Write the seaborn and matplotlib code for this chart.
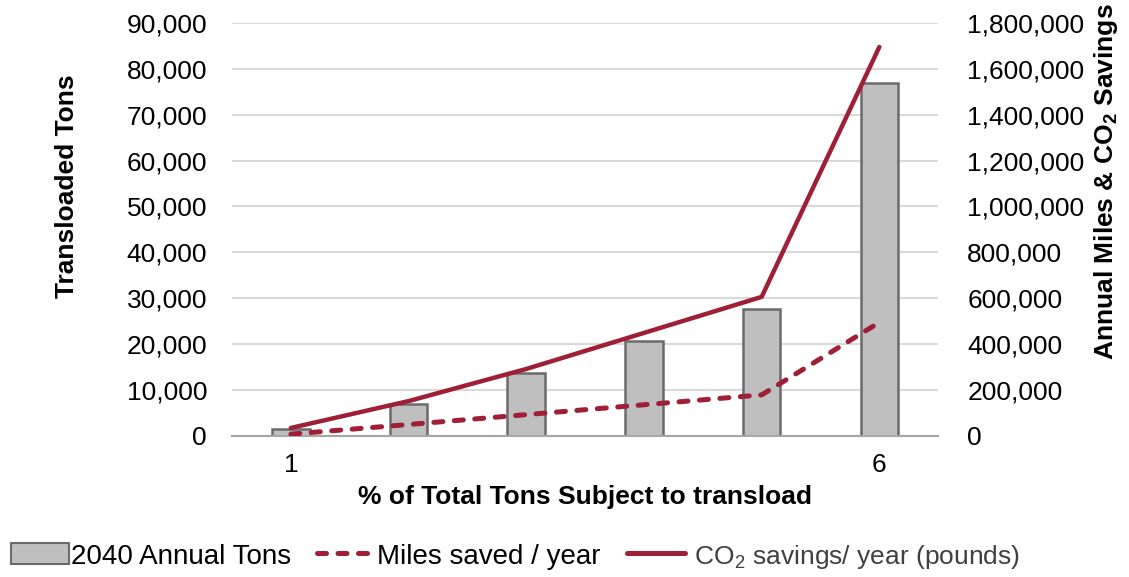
import matplotlib
matplotlib.use("Agg")
import matplotlib.pyplot as plt
import seaborn as sns
import pandas as pd
from matplotlib.patches import Patch
from matplotlib.lines import Line2D
from matplotlib.ticker import FuncFormatter

# Data
share_pct = [1, 2, 3, 4, 5, 6]
annual_tons_2040 = [1500, 7000, 13700, 20700, 27700, 76900]
miles_saved = [8000, 50000, 93000, 136000, 179000, 495000]
co2_savings = [35000, 152000, 292000, 449000, 606000, 1695000]
tick_labels = ["1", "6"]

df = pd.DataFrame({
    "share": share_pct,
    "tons": annual_tons_2040,
    "miles": miles_saved,
    "co2": co2_savings,
})

sns.set_theme(style="white")
plt.rcParams["font.family"] = ["Liberation Sans", "DejaVu Sans"]
plt.rcParams["text.color"] = "black"
plt.rcParams["axes.labelcolor"] = "black"

RED = "#9E1F36"
BAR = "#BFBFBF"
EDGE = "#6B6B6B"
GRID = "#D9D9D9"
FS = 19
DASH = (0, (1.8, 2.3))

fig = plt.figure(figsize=(11.29, 5.77), dpi=100)
ax = fig.add_axes([0.2055, 0.2444, 0.6255, 0.716])

sns.barplot(data=df, x="share", y="tons", native_scale=True, width=0.32,
            color=BAR, edgecolor=EDGE, linewidth=1.8, saturation=1, ax=ax, zorder=2)

ax.set_xlim(0.5, 6.5)
ax.set_ylim(0, 90000)
ax.set_yticks(range(0, 90001, 10000))
ax.yaxis.set_major_formatter(FuncFormatter(lambda v, p: f"{int(v):,}"))
ax.set_xticks([1, 6])
ax.set_xticklabels(tick_labels)
ax.grid(axis="y", color=GRID, linewidth=1.5, zorder=0)
ax.set_axisbelow(True)
for s in ["left", "right", "top"]:
    ax.spines[s].set_visible(False)
ax.spines["bottom"].set_color("#A6A6A6")
ax.spines["bottom"].set_linewidth(1.5)
ax.tick_params(axis="y", labelsize=FS, length=0, colors="black", pad=18)
ax.tick_params(axis="x", labelsize=FS, length=0, colors="black", pad=12)
ax.set_xlabel("% of Total Tons Subject to transload", fontsize=FS,
              fontweight="bold", labelpad=6, color="black")
ax.set_ylabel("Transloaded Tons", fontsize=FS, fontweight="bold", color="black")
ax.yaxis.label.set_va("center")
ax.yaxis.set_label_coords(-0.234, 0.605)

ax2 = ax.twinx()
sns.lineplot(data=df, x="share", y="co2", color=RED, linewidth=3.2, ax=ax2,
             solid_capstyle="round")
sns.lineplot(data=df, x="share", y="miles", color=RED, linewidth=3.6, ax=ax2)
ax2.lines[-1].set_linestyle(DASH)
ax2.lines[-1].set_dash_capstyle("round")
ax2.set_ylim(0, 1800000)
ax2.set_yticks(range(0, 1800001, 200000))
ax2.yaxis.set_major_formatter(FuncFormatter(lambda v, p: f"{int(v):,}"))
ax2.set_xlim(0.5, 6.5)
for s in ["left", "right", "top", "bottom"]:
    ax2.spines[s].set_visible(False)
ax2.tick_params(axis="y", labelsize=FS, length=0, colors="black", pad=21)
ax2.set_ylabel("Annual Miles & CO$_\\mathregular{2}$ Savings", fontsize=FS,
               fontweight="bold", color="black")
ax2.yaxis.label.set_va("center")
ax2.yaxis.set_label_coords(1.238, 0.615)
ax2.grid(False)

handles = [
    Patch(facecolor=BAR, edgecolor=EDGE, linewidth=1.5),
    Line2D([0], [0], color=RED, linewidth=3.6, linestyle=DASH,
           dash_capstyle="round"),
    Line2D([0], [0], color=RED, linewidth=3.6),
]
labels = ["2040 Annual Tons", "Miles saved / year",
          " CO$_\\mathregular{2}$ savings/ year (pounds)"]
leg = fig.legend(handles, labels, loc="lower left", bbox_to_anchor=(0.0, -0.008),
                 ncol=3, frameon=False, fontsize=20, handlelength=2.1,
                 handletextpad=0.05, columnspacing=0.95, handleheight=0.8,
                 borderaxespad=0, borderpad=0.4)
co2_text = leg.get_texts()[2]
co2_text.set_fontsize(19)
co2_text.set_color("#404040")

fig.savefig("out.png", dpi=100)
